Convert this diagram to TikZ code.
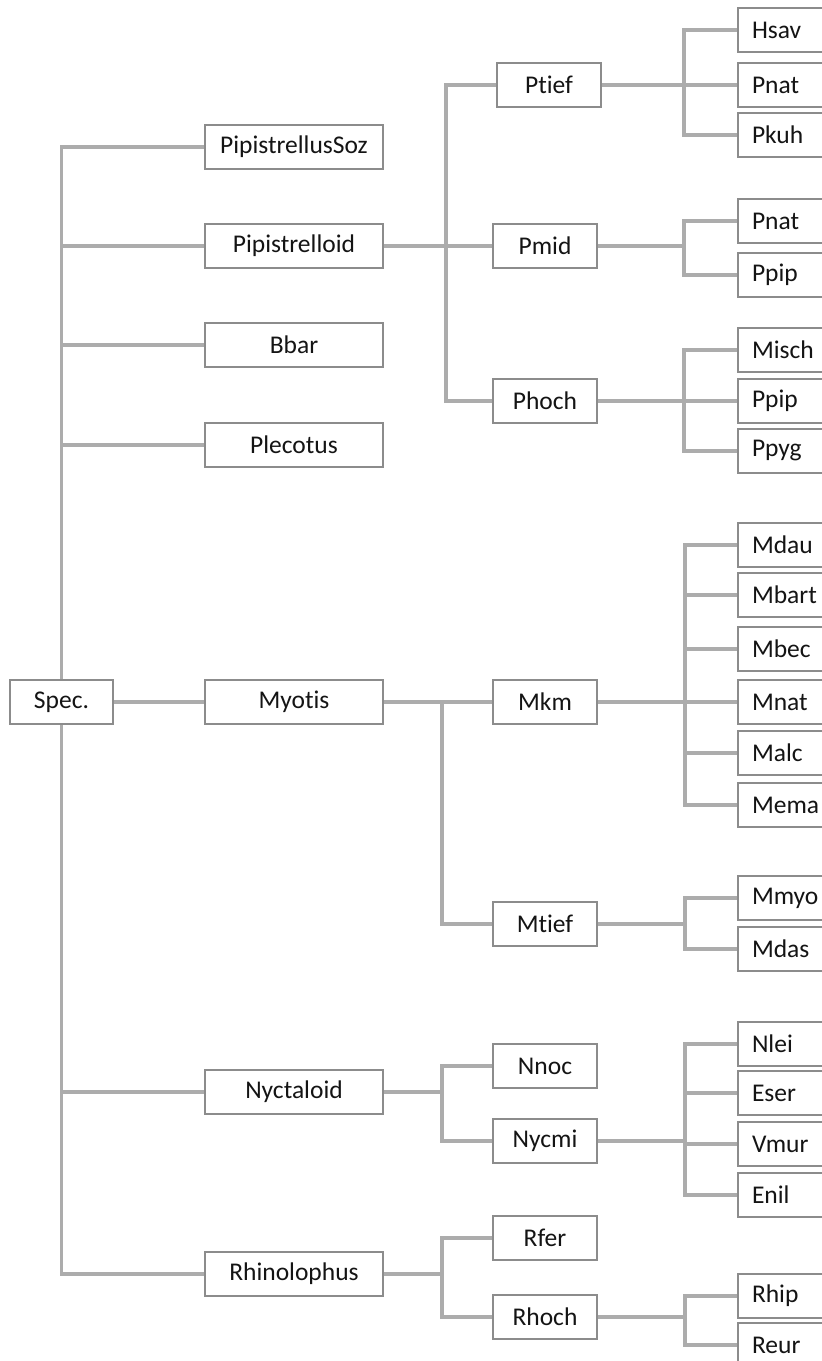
\documentclass[tikz,border=0pt]{standalone}
\usepackage{fontspec}
\setmainfont{Carlito}[Ligatures=NoCommon]
\definecolor{linegray}{RGB}{172,172,172}
\definecolor{boxgray}{RGB}{140,140,140}
\definecolor{textgray}{RGB}{20,20,20}

\begin{document}
\begin{tikzpicture}[x=1pt,y=-1pt,
  box/.style={draw=boxgray,line width=2pt,fill=white,text=textgray,
    minimum height=44pt,inner ysep=0pt,font=\fontsize{25.5}{30}\selectfont},
  gruppe/.style={box,minimum width=178pt},
  art/.style={box,minimum width=104pt},
  blatt/.style={box,anchor=west,text width=80pt,align=left,inner xsep=14pt},
  ast/.style={draw=linegray,line width=3.5pt}]
\useasboundingbox (0,0) rectangle (822,1361);
\clip (0,0) rectangle (822,1361);
\newcommand\blatt[3]{
\node[blatt] (#1) at (737,#2) {#3};
}
% Wurzel und Gruppen
\node[box,minimum width=103pt] (spec) at (61.5,702) {Spec.};
\node[gruppe] (psoz) at (294,147) {PipistrellusSoz};
\node[gruppe] (pipo) at (294,246) {Pipistrelloid};
\node[gruppe] (bbar) at (294,345) {Bbar};
\node[gruppe] (plec) at (294,445) {Plecotus};
\node[gruppe] (myot) at (294,702) {Myotis};
\node[gruppe] (nyct) at (294,1092) {Nyctaloid};
\node[gruppe] (rhin) at (294,1274) {Rhinolophus};
% zweite Ebene
\node[art] (ptief) at (549,85) {Ptief};
\node[art] (pmid) at (545,246) {Pmid};
\node[art] (phoch) at (545,401) {Phoch};
\node[art] (mkm) at (545,702) {Mkm};
\node[art] (mtief) at (545,924) {Mtief};
\node[art] (nnoc) at (545,1066) {Nnoc};
\node[art] (nycmi) at (545,1141) {Nycmi};
\node[art] (rfer) at (545,1238) {Rfer};
\node[art] (rhoch) at (545,1317) {Rhoch};
% Arten
\blatt{hsav}{30}{Hsav}
\blatt{pnat1}{85}{Pnat}
\blatt{pkuh}{135}{Pkuh}
\blatt{pnat2}{221}{Pnat}
\blatt{ppip1}{275}{Ppip}
\blatt{misch}{350}{Misch}
\blatt{ppip2}{401}{Ppip}
\blatt{ppyg}{451}{Ppyg}
\blatt{mdau}{545}{Mdau}
\blatt{mbart}{595}{Mbart}
\blatt{mbec}{649}{Mbec}
\blatt{mnat}{702}{Mnat}
\blatt{malc}{753}{Malc}
\blatt{mema}{805}{Mema}
\blatt{mmyo}{898}{Mmyo}
\blatt{mdas}{949}{Mdas}
\blatt{nlei}{1044}{Nlei}
\blatt{eser}{1093}{Eser}
\blatt{vmur}{1144}{Vmur}
\blatt{enil}{1195}{Enil}
\blatt{rhip}{1296}{Rhip}
\blatt{reur}{1345}{Reur}
% Verzweigungspunkte
\coordinate (pv) at (446,246);
\coordinate (tv) at (684,85);
\coordinate (mv) at (684,246);
\coordinate (hv) at (684,401);
\coordinate (yv) at (442,702);
\coordinate (kv) at (685,702);
\coordinate (fv) at (685,924);
\coordinate (nv) at (442,1092);
\coordinate (cv) at (685,1141);
\coordinate (rv) at (442,1274);
\coordinate (ov) at (685,1317);
% Stamm
\path[ast] (spec) |- (psoz);
\path[ast] (spec) |- (pipo);
\path[ast] (spec) |- (bbar);
\path[ast] (spec) |- (plec);
\path[ast] (spec) -- (myot);
\path[ast] (spec) |- (nyct);
\path[ast] (spec) |- (rhin);
% Pipistrelloid
\path[ast] (pipo) -- (pmid);
\path[ast] (pv) |- (ptief);
\path[ast] (pv) |- (phoch);
\path[ast] (ptief) -- (pnat1);
\path[ast] (tv) |- (hsav);
\path[ast] (tv) |- (pkuh);
\path[ast] (pmid) -- (mv);
\path[ast] (mv) |- (pnat2);
\path[ast] (mv) |- (ppip1);
\path[ast] (phoch) -- (ppip2);
\path[ast] (hv) |- (misch);
\path[ast] (hv) |- (ppyg);
% Myotis
\path[ast] (myot) -- (mkm);
\path[ast] (yv) |- (mtief);
\path[ast] (mkm) -- (mnat);
\foreach \b in {mdau,mbart,mbec,malc,mema}
  \path[ast] (kv) |- (\b);
\path[ast] (mtief) -- (fv);
\path[ast] (fv) |- (mmyo);
\path[ast] (fv) |- (mdas);
% Nyctaloid
\path[ast] (nyct) -- (nv);
\path[ast] (nv) |- (nnoc);
\path[ast] (nv) |- (nycmi);
\path[ast] (nycmi) -- (cv);
\foreach \b in {nlei,eser,vmur,enil}
  \path[ast] (cv) |- (\b);
% Rhinolophus
\path[ast] (rhin) -- (rv);
\path[ast] (rv) |- (rfer);
\path[ast] (rv) |- (rhoch);
\path[ast] (rhoch) -- (ov);
\path[ast] (ov) |- (rhip);
\path[ast] (ov) |- (reur);
\end{tikzpicture}
\end{document}
